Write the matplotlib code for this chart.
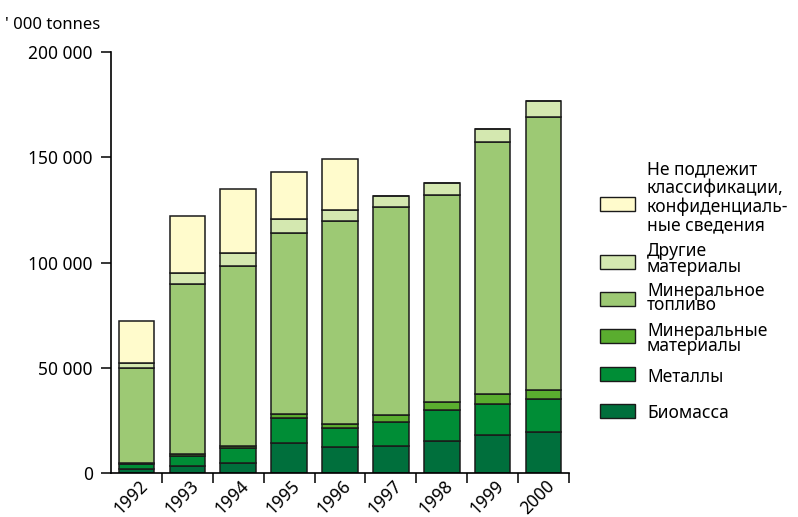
import numpy as np
import matplotlib
matplotlib.use("Agg")
import matplotlib.pyplot as plt
from matplotlib.patches import Rectangle
from matplotlib.ticker import FuncFormatter

plt.rcParams['font.family'] = ['Noto Sans', 'DejaVu Sans']

W, H = 798, 517

years = ['1992', '1993', '1994', '1995', '1996', '1997', '1998', '1999', '2000']

# thousand tonnes
biomass = [1900, 3300, 4600, 14300, 12500, 12900, 15400, 18100, 19400]
metals = [2200, 4800, 7100, 11900, 8800, 11500, 14700, 14600, 15700]
mineral_materials = [800, 900, 1000, 2000, 1900, 3100, 3800, 4600, 4300]
mineral_fuel = [45000, 80600, 85700, 85600, 96300, 99000, 98100, 120100, 129500]
other_materials = [2300, 5300, 6200, 7000, 5400, 4900, 5700, 6200, 7900]
unclassified = [19800, 27300, 30200, 22400, 24100, 0, 0, 0, 0]

series = [biomass, metals, mineral_materials, mineral_fuel, other_materials, unclassified]
colors = ['#006f3c', '#008d36', '#5aad2f', '#9dc974', '#d4e8b0', '#fffbcc']
labels = ['Биомасса', 'Металлы', 'Минеральные\nматериалы', 'Минеральное\nтопливо',
          'Другие\nматериалы', 'Не подлежит\nклассификации,\nконфиденциаль-\nные сведения']

fig = plt.figure(figsize=(W / 100, H / 100), dpi=100)
ax = fig.add_axes([111 / W, 1 - 473 / H, (569 - 111) / W, (473 - 52) / H])

x = np.arange(len(years))
bottom = np.zeros(len(years))
for vals, c in zip(series, colors):
    v = np.array(vals, dtype=float)
    ax.bar(x, v, width=0.70, bottom=bottom, color=c, edgecolor='#1a1a1a', linewidth=1.1, zorder=2)
    bottom += v

ax.set_xlim(-0.5, len(years) - 0.5)
ax.set_ylim(0, 200000)
ax.set_yticks(np.arange(0, 200001, 50000))
ax.yaxis.set_major_formatter(FuncFormatter(lambda v, p: f'{int(v):,}'.replace(',', ' ')))
ax.set_xticks(x + 0.5)
ax.set_xticklabels([])
ax.tick_params(axis='both', direction='out', length=7, width=1.1, color='black', labelsize=12.5, pad=6)
for s in ['top', 'right']:
    ax.spines[s].set_visible(False)
for s in ['left', 'bottom']:
    ax.spines[s].set_linewidth(1.2)

for i, yr in enumerate(years):
    ax.text(i + 0.04, -0.008, yr, transform=ax.get_xaxis_transform(), rotation=45,
            rotation_mode='anchor', ha='right', va='top', fontsize=12.5)

fig.text(5 / W, 1 - 29 / H, "' 000 tonnes", fontsize=12, va='baseline', ha='left')

# legend, top entry first
patch_y = [404, 367, 329, 292, 255, 197]
cap_top = [404, 368, 322.5, 282.5, 242, 160]
spacing = [1.0, 1.0, 0.74, 0.70, 0.84, 1.04]
for lab, c, py, ct, ls in zip(labels, colors, patch_y, cap_top, spacing):
    fig.add_artist(Rectangle((600 / W, 1 - (py + 14) / H), 35 / W, 14 / H,
                             transform=fig.transFigure, facecolor=c,
                             edgecolor='#1a1a1a', linewidth=1.0))
    fig.text(647 / W, 1 - ct / H, lab, fontsize=12.5, va='top', ha='left', linespacing=ls)

fig.savefig('out.png', dpi=100)
